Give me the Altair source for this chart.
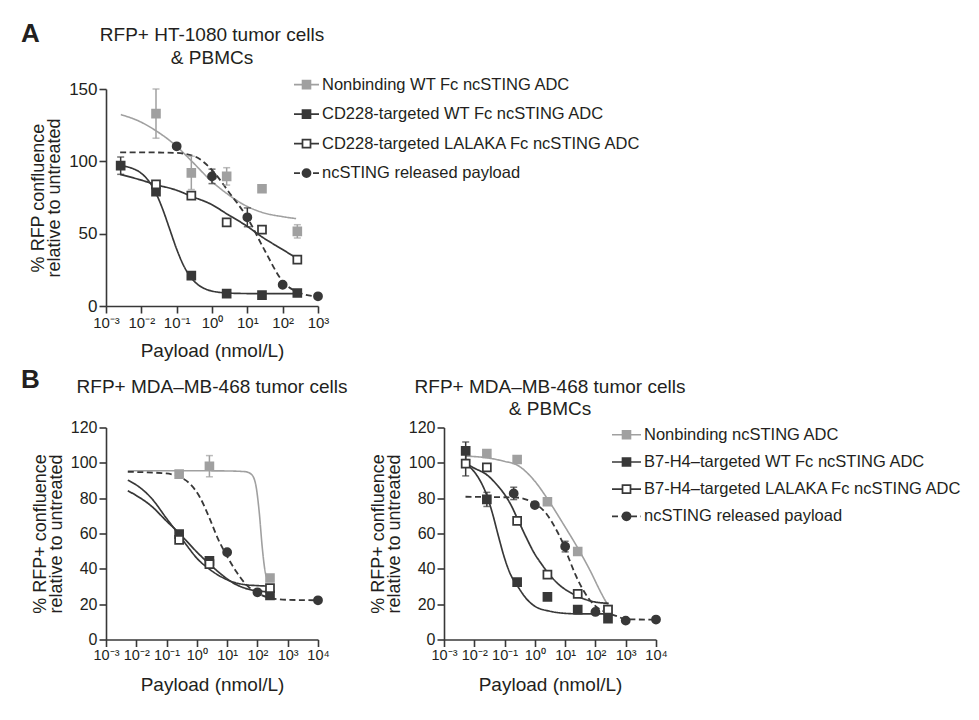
import json

import altair as alt
import pandas as pd

FONT = "Liberation Sans"
DARK = "#383838"
GRAY = "#a0a0a0"
INK = "#231f20"

# series keys: nonbinding ADC, targeted WT Fc ADC, targeted LALAKA Fc ADC, released payload
KEYS = ["nb", "wt", "la", "pl"]

DECADES_A = [1e-3, 1e-2, 1e-1, 1e0, 1e1, 1e2, 1e3]
DECADES_B = [1e-3, 1e-2, 1e-1, 1e0, 1e1, 1e2, 1e3, 1e4]
DECADE_LABELS = ["10⁻³", "10⁻²", "10⁻¹", "10⁰", "10¹", "10²", "10³", "10⁴"]
X_TITLE = "Payload (nmol/L)"

# ---------------- Panel A: HT-1080 tumor cells & PBMCs ----------------
A_TITLE = "RFP+ HT-1080 tumor cells\n& PBMCs"
A_YTITLE = ["% RFP confluence", "relative to untreated"]
A_YTICKS = [0, 50, 100, 150]
A_LEGEND = ["Nonbinding WT Fc ncSTING ADC", "CD228-targeted WT Fc ncSTING ADC",
            "CD228-targeted LALAKA Fc ncSTING ADC", "ncSTING released payload"]

A_NB_DOSE = [0.026, 0.26, 2.6, 26, 260]
A_NB_MEAN = [133, 92, 89.6, 81, 51.6]
A_NB_SEM = [17, 11.5, 6, 0, 4.6]
A_WT_DOSE = [0.0026, 0.026, 0.26, 2.6, 26, 260]
A_WT_MEAN = [97, 79, 21, 8.5, 7.5, 9]
A_WT_SEM = [6, 0, 0, 0, 0, 0]
A_LA_DOSE = [0.026, 0.26, 2.6, 26, 260]
A_LA_MEAN = [84, 76.3, 57.8, 52.8, 32]
A_LA_SEM = [0, 0, 0, 0, 0]
A_PL_DOSE = [0.1, 1, 10, 100, 1000]
A_PL_MEAN = [110.4, 89.6, 61.3, 14.7, 6.7]
A_PL_SEM = [0, 5, 6.5, 0, 0]

# fitted dose-response curves: log10(dose) and response
A_NB_FIT_LOG = [-2.58, -2.05, -1.59, -1.02, -0.59, -0.01, 0.40, 0.99, 1.42, 1.99, 2.38]
A_NB_FIT = [132.3, 127.6, 121.2, 110.8, 100.5, 86.2, 78.1, 68.9, 64.7, 61.8, 60.4]
A_WT_FIT_LOG = [-2.6, -2.3, -2.0, -1.8, -1.6, -1.4, -1.2, -1.0, -0.8, -0.6, -0.4, -0.2, 0.0, 0.5, 1.0, 1.5, 2.4]
A_WT_FIT = [97.0, 95.5, 91.7, 86.7, 78.7, 67.2, 53.3, 39.3, 27.8, 19.8, 14.8, 11.9, 10.3, 8.9, 8.6, 8.5, 8.5]
A_LA_FIT_LOG = [-2.6, -2.0, -1.6, -1.0, -0.6, 0.0, 0.4, 1.0, 1.4, 2.0, 2.4]
A_LA_FIT = [91, 87, 84, 80, 76, 70, 64, 55, 48, 39, 33]
A_PL_FIT_LOG = [-2.6, -2.0, -1.5, -1.0, -0.5, 0.0, 0.5, 1.0, 1.5, 2.0, 2.5, 3.0]
A_PL_FIT = [106.2, 106.2, 106.1, 105.8, 103.5, 94, 78, 61, 38, 17, 9, 6.5]

# ---------------- Panel B (left): MDA-MB-468 tumor cells ----------------
BL_TITLE = "RFP+ MDA–MB-468 tumor cells"
B_YTITLE = ["% RFP+ confluence", "relative to untreated"]
B_YTICKS = [0, 20, 40, 60, 80, 100, 120]

BL_NB_DOSE = [0.26, 2.6, 260]
BL_NB_MEAN = [93.6, 98.1, 34.8]
BL_NB_SEM = [0, 6, 0]
BL_WT_DOSE = [0.26, 2.6, 260]
BL_WT_MEAN = [59.6, 44.5, 25]
BL_WT_SEM = [0, 0, 0]
BL_LA_DOSE = [0.26, 2.6, 260]
BL_LA_MEAN = [56.4, 42.7, 29.1]
BL_LA_SEM = [0, 0, 0]
BL_PL_DOSE = [10, 100, 10000]
BL_PL_MEAN = [49.4, 26.7, 22.2]
BL_PL_SEM = [0, 0, 0]

BL_NB_FIT_LOG = [-2.28, -1.0, 0.0, 1.0, 1.6, 1.8, 1.94, 2.06, 2.16, 2.26, 2.34, 2.42]
BL_NB_FIT = [95.5, 95.5, 95.5, 95.4, 95.0, 93.5, 88, 72, 52, 38, 34.5, 34]
BL_WT_FIT_LOG = [-2.28, -2.0, -1.5, -1.0, -0.6, -0.3, 0.0, 0.4, 0.8, 1.2, 1.6, 2.0, 2.42]
BL_WT_FIT = [90.2, 87.5, 80, 68.5, 59.5, 52.5, 46, 40, 35.5, 32.5, 31, 30.5, 30.2]
BL_LA_FIT_LOG = [-2.28, -2.0, -1.5, -1.0, -0.6, -0.3, 0.0, 0.4, 0.8, 1.2, 1.6, 2.0, 2.42]
BL_LA_FIT = [84.2, 81.5, 75.5, 67, 60.5, 55, 49.5, 43, 37, 32, 29, 27.5, 27]
BL_PL_FIT_LOG = [-2.28, -1.02, -0.57, -0.24, 0.09, 0.42, 0.69, 0.97, 1.30, 1.63, 1.96, 2.42, 2.95, 4.0]
BL_PL_FIT = [94.9, 94.0, 92.0, 88.3, 80.8, 68.6, 57.3, 47.9, 38.5, 31.0, 26.7, 23.5, 22.5, 22.2]

# ---------------- Panel B (right): MDA-MB-468 tumor cells & PBMCs ----------------
BR_TITLE = "RFP+ MDA–MB-468 tumor cells\n& PBMCs"
B_LEGEND = ["Nonbinding ncSTING ADC", "B7-H4–targeted WT Fc ncSTING ADC",
            "B7-H4–targeted LALAKA Fc ncSTING ADC", "ncSTING released payload"]

BR_NB_DOSE = [0.026, 0.26, 2.6, 26, 260]
BR_NB_MEAN = [105.3, 101.9, 78, 49.8, 16.9]
BR_NB_SEM = [0, 0, 0, 0, 0]
BR_WT_DOSE = [0.0052, 0.026, 0.26, 2.6, 26, 260]
BR_WT_MEAN = [106.8, 79.3, 32.5, 24.1, 16.9, 11.8]
BR_WT_SEM = [5, 4, 0, 0, 0, 0]
BR_LA_DOSE = [0.0052, 0.026, 0.26, 2.6, 26, 260]
BR_LA_MEAN = [99.6, 97.4, 67.1, 36.7, 25.8, 16.9]
BR_LA_SEM = [7, 0, 0, 0, 0, 0]
BR_PL_DOSE = [0.2, 1, 10, 100, 1000, 10000]
BR_PL_MEAN = [82.7, 76.1, 52.6, 15.6, 10.7, 11.3]
BR_PL_SEM = [3.5, 0, 3, 0, 0, 0]

BR_NB_FIT_LOG = [-2.29, -1.57, -1.02, -0.58, -0.03, 0.44, 0.96, 1.42, 1.84, 2.16, 2.44]
BR_NB_FIT = [103.8, 102.8, 100.9, 98.7, 90.2, 79, 64.8, 51.7, 38.5, 27.3, 18.5]
BR_WT_FIT_LOG = [-2.29, -2.0, -1.8, -1.57, -1.4, -1.2, -1.0, -0.8, -0.58, -0.3, 0.0, 0.5, 1.0, 1.5, 2.44]
BR_WT_FIT = [99.6, 94.9, 89.7, 80.8, 71.4, 58.3, 46, 36.7, 30.5, 23.5, 18.8, 16, 14.8, 14.5, 14.5]
BR_LA_FIT_LOG = [-2.29, -2.0, -1.57, -1.2, -1.0, -0.8, -0.58, -0.3, 0.0, 0.2, 0.44, 0.8, 1.2, 1.6, 2.0, 2.44]
BR_LA_FIT = [99.6, 97, 93, 86.5, 82.1, 76.5, 68.6, 58.3, 48.3, 43.2, 37.6, 31, 26.3, 23.1, 21.2, 20.5]
BR_PL_FIT_LOG = [-2.29, -0.58, -0.25, 0.08, 0.41, 0.68, 0.90, 1.12, 1.34, 1.62, 1.95, 2.27, 2.71, 2.99, 4.0]
BR_PL_FIT = [80.8, 80.3, 79, 76.1, 70.5, 63, 55.5, 46, 36.7, 27.3, 19.7, 16, 13.2, 11.5, 11.2]

DASHES = [[1, 0], [1, 0], [1, 0], [6, 3.5]]


def points_frame(groups):
    rows = []
    for key, doses, means, sems in groups:
        for d, m, s in zip(doses, means, sems):
            rows.append({"series": key, "dose": d, "value": m, "sem": s,
                         "lo": m - s, "hi": m + s})
    return pd.DataFrame(rows)


def fit_frame(groups):
    rows = []
    for key, logs, vals in groups:
        for i, (lg, v) in enumerate(zip(logs, vals)):
            rows.append({"series": key, "dose": 10 ** lg, "value": v, "order": i})
    return pd.DataFrame(rows)


def style(channel, values, **kw):
    return channel("series:N", scale=alt.Scale(domain=KEYS, range=values), legend=None, **kw)


def stroke_color():
    return style(alt.Color, [GRAY, DARK, DARK, DARK])


LABEL_EXPR = json.dumps(DECADE_LABELS, ensure_ascii=False) + "[round(log(datum.value)/LN10)+3]"


def text_layer(text, x, y, size, weight="normal", align="center"):
    return alt.Chart(pd.DataFrame({"t": [text]})).mark_text(
        align=align, baseline="alphabetic", fontSize=size, fontWeight=weight,
        font=FONT, color=INK, lineBreak="\n", lineHeight=22.5,
    ).encode(x=alt.value(x), y=alt.value(y), text="t:N")


def panel(pts, fits, xticks, ymax, yticks, ytitle, title, title_y,
          legend_labels=None, legend_x=None, legend_rows=None,
          letter=None, letter_xy=None, width=212, height=212,
          xlabel_size=15, ylabel_size=17, xtitle_pad=10):
    xs = alt.Scale(type="log", domain=[xticks[0], xticks[-1]], nice=False)
    xa = alt.Axis(values=xticks, labelExpr=LABEL_EXPR, title=X_TITLE,
                  labelFontSize=xlabel_size, titlePadding=xtitle_pad)
    ys = alt.Scale(domain=[0, ymax], nice=False)
    ya = alt.Axis(values=yticks, title=ytitle, labelFontSize=ylabel_size)

    def X(field="dose"):
        return alt.X(f"{field}:Q", scale=xs, axis=xa)

    def Y(field):
        return alt.Y(f"{field}:Q", scale=ys, axis=ya)

    curves = alt.Chart(fits).mark_line(interpolate="monotone").encode(
        x=X(), y=Y("value"), order="order:Q",
        color=stroke_color(),
        strokeDash=style(alt.StrokeDash, DASHES),
        strokeWidth=style(alt.StrokeWidth, [1.6, 1.8, 1.8, 2.2]),
    )
    errs = pts[pts["sem"] > 0]
    bars = alt.Chart(errs).mark_rule(strokeWidth=1.5).encode(
        x=X(), y=Y("lo"), y2="hi:Q", color=stroke_color())
    cap_lo = alt.Chart(errs).mark_tick(orient="horizontal", size=7, thickness=1.5).encode(
        x=X(), y=Y("lo"), color=stroke_color())
    cap_hi = alt.Chart(errs).mark_tick(orient="horizontal", size=7, thickness=1.5).encode(
        x=X(), y=Y("hi"), color=stroke_color())
    marks = alt.Chart(pts).mark_point(filled=True, opacity=1).encode(
        x=X(), y=Y("value"),
        shape=style(alt.Shape, ["square", "square", "square", "circle"]),
        fill=style(alt.Fill, [GRAY, DARK, "white", DARK]),
        stroke=style(alt.Stroke, [GRAY, DARK, DARK, DARK]),
        size=style(alt.Size, [64, 64, 72, 52]),
        strokeWidth=style(alt.StrokeWidth, [1, 1, 2.4, 1]),
    )
    layers = [alt.layer(curves, bars, cap_lo, cap_hi, marks)]

    if legend_labels is not None:
        leg = pd.DataFrame({"series": KEYS, "label": legend_labels, "row": [0, 1, 2, 3]})
        ly = alt.Y("row:O", scale=alt.Scale(type="point", domain=[0, 1, 2, 3],
                                             range=legend_rows, padding=0), axis=None)
        x0, x1, xt = legend_x
        leg_line = alt.Chart(leg).mark_rule().encode(
            x=alt.value(x0), x2=alt.value(x1), y=ly, color=stroke_color(),
            strokeDash=style(alt.StrokeDash, DASHES),
            strokeWidth=style(alt.StrokeWidth, [1.6, 1.8, 1.8, 2.2]),
        )
        leg_mark = alt.Chart(leg).mark_point(filled=True, opacity=1).encode(
            x=alt.value((x0 + x1) / 2), y=ly,
            shape=style(alt.Shape, ["square", "square", "square", "circle"]),
            fill=style(alt.Fill, [GRAY, DARK, "white", DARK]),
            stroke=style(alt.Stroke, [GRAY, DARK, DARK, DARK]),
            size=style(alt.Size, [56, 56, 60, 44]),
            strokeWidth=style(alt.StrokeWidth, [1, 1, 2.2, 1]),
        )
        leg_text = alt.Chart(leg).mark_text(
            align="left", baseline="middle", fontSize=16.5, font=FONT, color=INK
        ).encode(x=alt.value(xt), y=ly, text="label:N")
        layers.append(alt.layer(leg_line, leg_mark, leg_text))

    # panel heading above the plot
    layers.append(text_layer(title, width / 2, title_y, 19))
    if letter is not None:
        layers.append(text_layer(letter, letter_xy[0], letter_xy[1], 26,
                                 weight="bold", align="left"))

    return alt.layer(*layers).resolve_scale(y="independent").properties(
        width=width, height=height)


pts_a = points_frame([("nb", A_NB_DOSE, A_NB_MEAN, A_NB_SEM),
                      ("wt", A_WT_DOSE, A_WT_MEAN, A_WT_SEM),
                      ("la", A_LA_DOSE, A_LA_MEAN, A_LA_SEM),
                      ("pl", A_PL_DOSE, A_PL_MEAN, A_PL_SEM)])
fit_a = fit_frame([("nb", A_NB_FIT_LOG, A_NB_FIT), ("wt", A_WT_FIT_LOG, A_WT_FIT),
                   ("la", A_LA_FIT_LOG, A_LA_FIT), ("pl", A_PL_FIT_LOG, A_PL_FIT)])

pts_bl = points_frame([("nb", BL_NB_DOSE, BL_NB_MEAN, BL_NB_SEM),
                       ("wt", BL_WT_DOSE, BL_WT_MEAN, BL_WT_SEM),
                       ("la", BL_LA_DOSE, BL_LA_MEAN, BL_LA_SEM),
                       ("pl", BL_PL_DOSE, BL_PL_MEAN, BL_PL_SEM)])
fit_bl = fit_frame([("nb", BL_NB_FIT_LOG, BL_NB_FIT), ("wt", BL_WT_FIT_LOG, BL_WT_FIT),
                    ("la", BL_LA_FIT_LOG, BL_LA_FIT), ("pl", BL_PL_FIT_LOG, BL_PL_FIT)])

pts_br = points_frame([("nb", BR_NB_DOSE, BR_NB_MEAN, BR_NB_SEM),
                       ("wt", BR_WT_DOSE, BR_WT_MEAN, BR_WT_SEM),
                       ("la", BR_LA_DOSE, BR_LA_MEAN, BR_LA_SEM),
                       ("pl", BR_PL_DOSE, BR_PL_MEAN, BR_PL_SEM)])
fit_br = fit_frame([("nb", BR_NB_FIT_LOG, BR_NB_FIT), ("wt", BR_WT_FIT_LOG, BR_WT_FIT),
                    ("la", BR_LA_FIT_LOG, BR_LA_FIT), ("pl", BR_PL_FIT_LOG, BR_PL_FIT)])

panel_a = panel(pts_a, fit_a, DECADES_A, 150, A_YTICKS, A_YTITLE, A_TITLE, -47.7,
                legend_labels=A_LEGEND, legend_x=(188, 213, 216),
                legend_rows=[-4.4, 84.1], letter="A", letter_xy=(-85, -46.7),
                width=212, height=217, xlabel_size=15, ylabel_size=17, xtitle_pad=11)

panel_bl = panel(pts_bl, fit_bl, DECADES_B, 120, B_YTICKS, B_YTITLE, BL_TITLE, -35,
                 letter="B", letter_xy=(-85, -39.5),
                 width=212, height=212, xlabel_size=14.5, ylabel_size=16, xtitle_pad=13)

panel_br = panel(pts_br, fit_br, DECADES_B, 120, B_YTICKS, B_YTITLE, BR_TITLE, -35,
                 legend_labels=B_LEGEND, legend_x=(168, 197, 200),
                 legend_rows=[7.3, 88.8],
                 width=212, height=212, xlabel_size=14.5, ylabel_size=16, xtitle_pad=13)

chart = alt.vconcat(
    panel_a,
    alt.hconcat(panel_bl, panel_br, spacing=21),
    spacing=6.5,
).properties(
    padding={"left": 21, "top": 21, "right": 5, "bottom": 5},
).configure_view(stroke=None).configure_axis(
    domainColor=DARK, domainWidth=1.6, tickColor=DARK, tickWidth=1.6, tickSize=7,
    labelColor=INK, titleColor=INK, labelFont=FONT, titleFont=FONT,
    titleFontWeight="normal", grid=False,
).configure_axisX(
    labelPadding=2, titleFontSize=19, labelFlush=False, labelOverlap=False,
).configure_axisY(
    labelPadding=2, titleFontSize=18, titlePadding=5, titleLineHeight=16,
)

chart.save("out.html", embed_options={"renderer": "svg", "actions": False})
